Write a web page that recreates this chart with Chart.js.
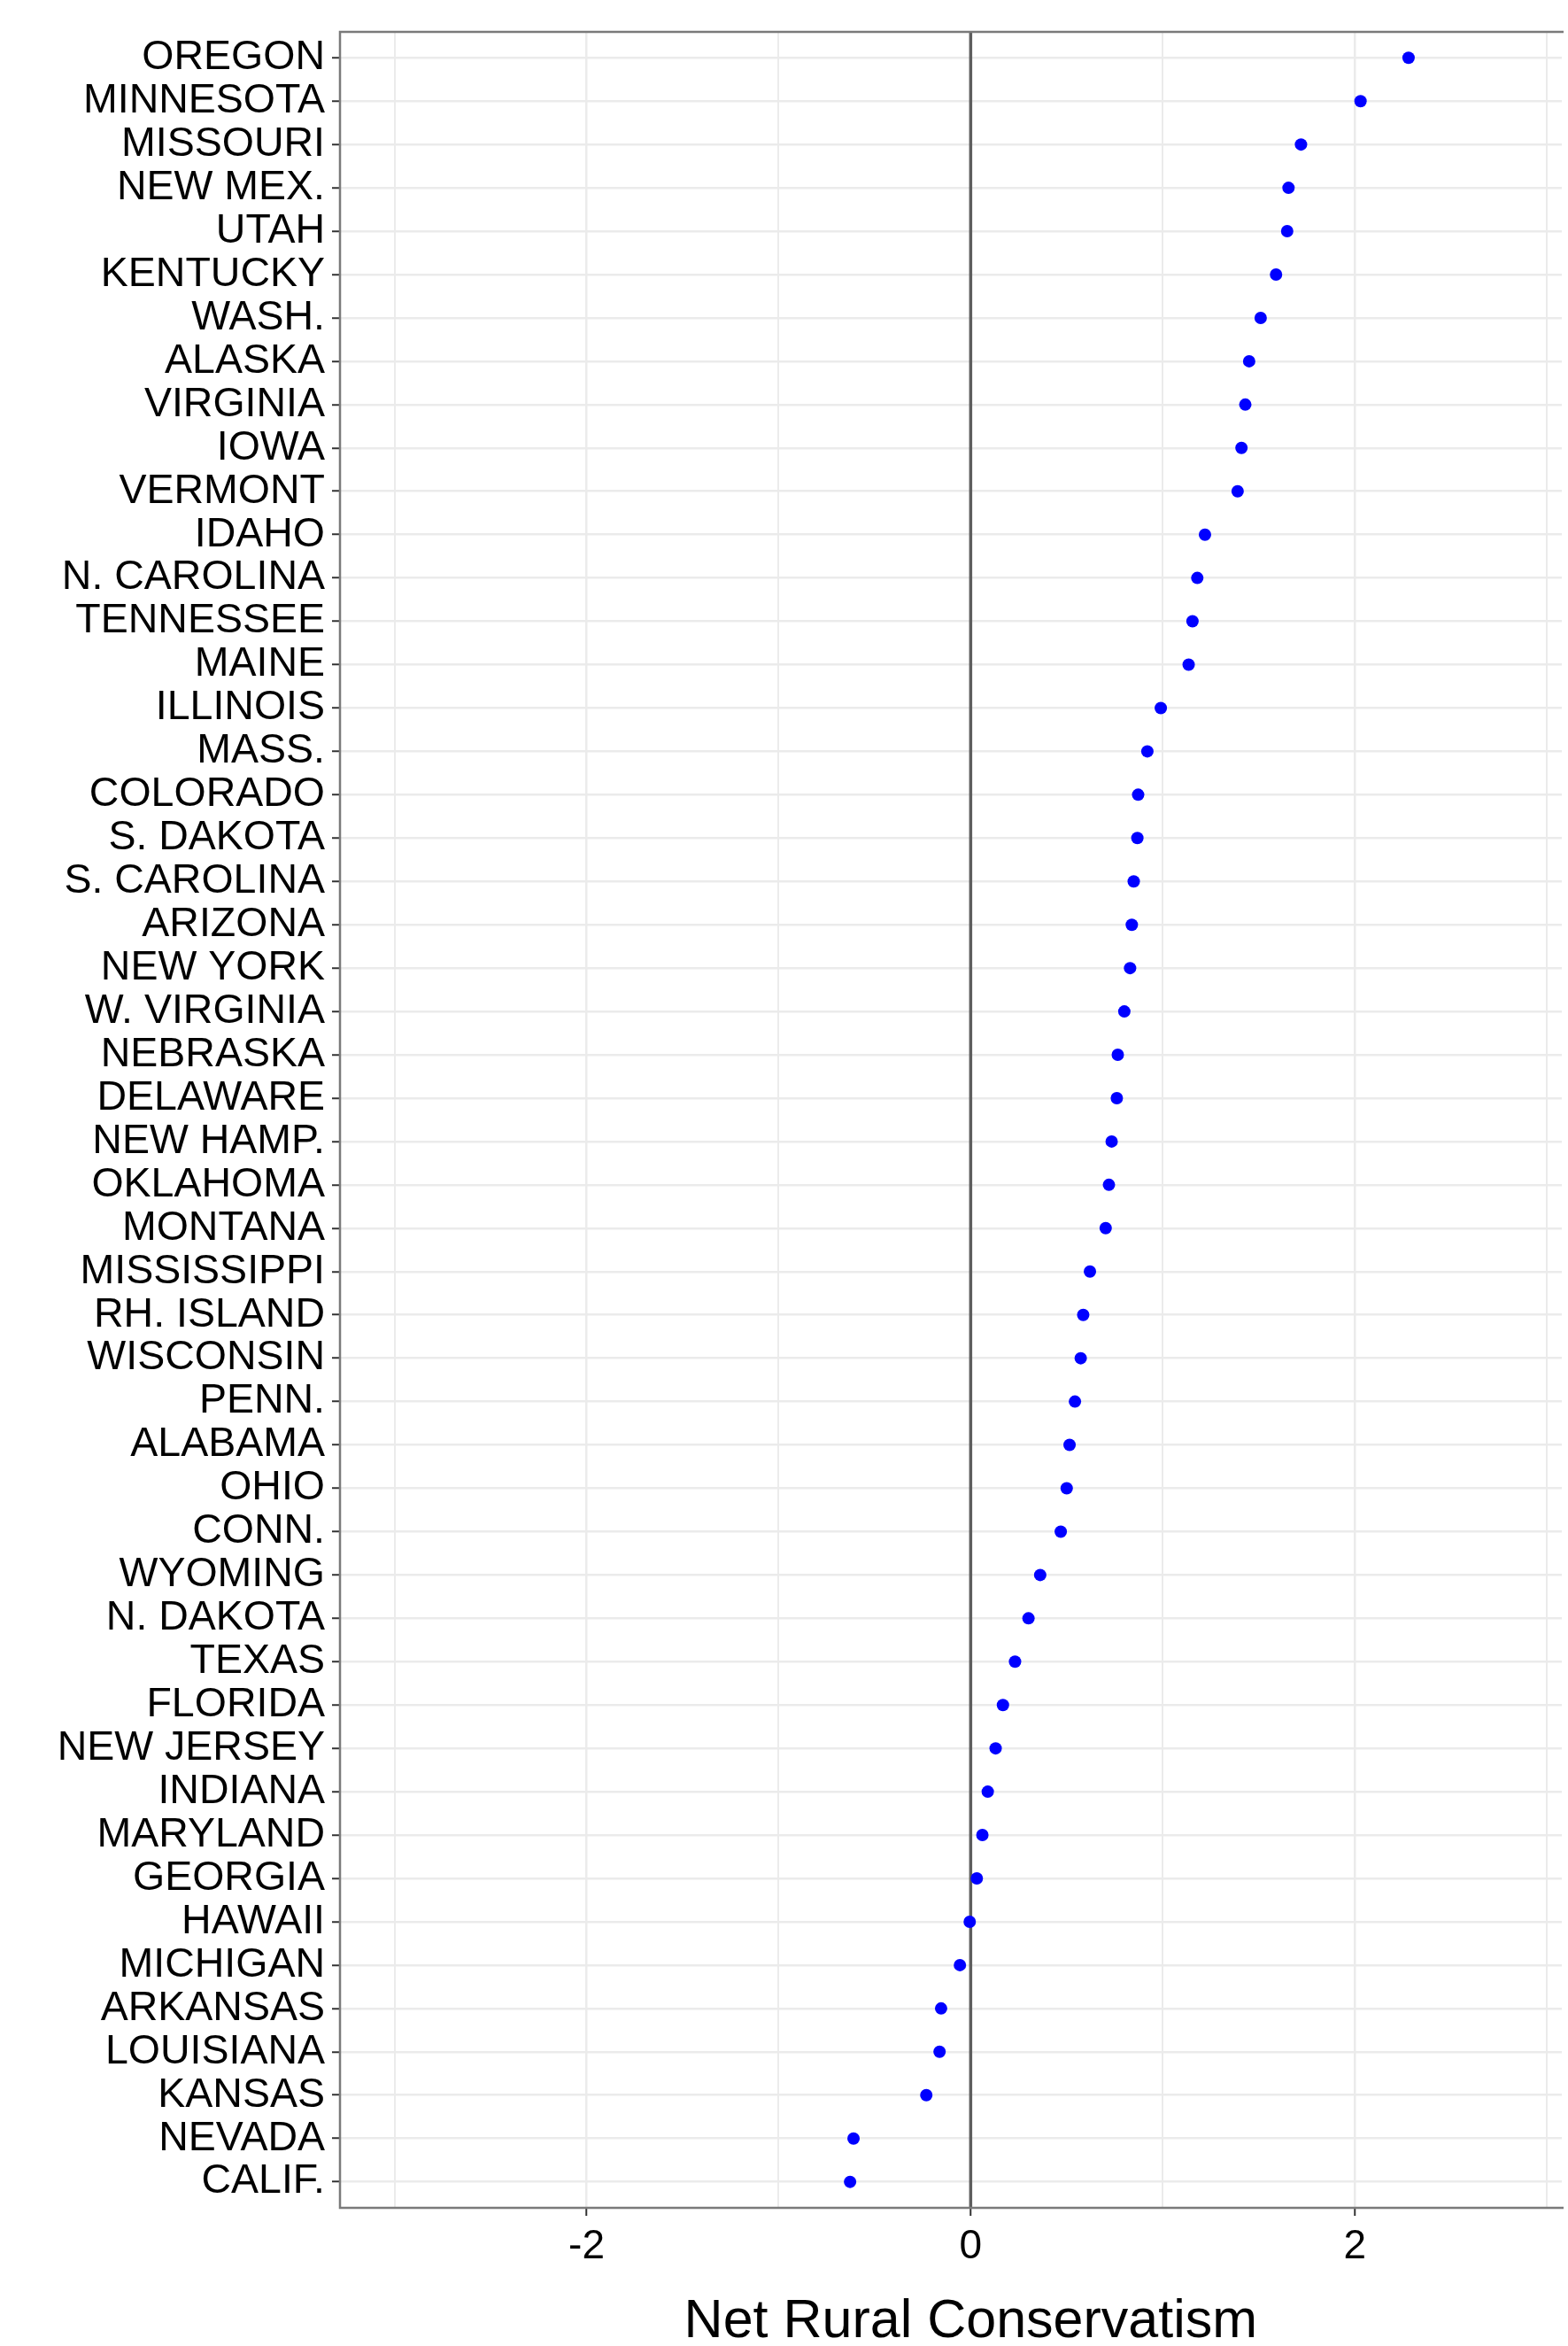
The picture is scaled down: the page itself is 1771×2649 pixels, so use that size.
<!DOCTYPE html>
<html>
<head>
<meta charset="utf-8">
<script src="https://cdn.jsdelivr.net/npm/chart.js@4.4.1/dist/chart.umd.min.js"></script>
<style>
  html, body { margin: 0; padding: 0; background: #fff; overflow: hidden; }
  #dotChart { display: block; }
</style>
</head>
<body>
<canvas id="dotChart" width="1771" height="2649"></canvas>
<script>
// states, top to bottom
const states = [
  'OREGON', 'MINNESOTA', 'MISSOURI', 'NEW MEX.', 'UTAH', 'KENTUCKY', 'WASH.', 'ALASKA',
  'VIRGINIA', 'IOWA', 'VERMONT', 'IDAHO', 'N. CAROLINA', 'TENNESSEE', 'MAINE', 'ILLINOIS',
  'MASS.', 'COLORADO', 'S. DAKOTA', 'S. CAROLINA', 'ARIZONA', 'NEW YORK', 'W. VIRGINIA',
  'NEBRASKA', 'DELAWARE', 'NEW HAMP.', 'OKLAHOMA', 'MONTANA', 'MISSISSIPPI', 'RH. ISLAND',
  'WISCONSIN', 'PENN.', 'ALABAMA', 'OHIO', 'CONN.', 'WYOMING', 'N. DAKOTA', 'TEXAS',
  'FLORIDA', 'NEW JERSEY', 'INDIANA', 'MARYLAND', 'GEORGIA', 'HAWAII', 'MICHIGAN',
  'ARKANSAS', 'LOUISIANA', 'KANSAS', 'NEVADA', 'CALIF.'
]

const ruralScores = [
  2.28, 2.03, 1.72, 1.655, 1.648, 1.59, 1.51, 1.45,
  1.43, 1.41, 1.39, 1.22, 1.18, 1.155, 1.135, 0.99,
  0.92, 0.872, 0.868, 0.849, 0.839, 0.83, 0.80,
  0.766, 0.761, 0.734, 0.72, 0.703, 0.621, 0.586,
  0.573, 0.543, 0.515, 0.50, 0.469, 0.362, 0.301, 0.231,
  0.168, 0.13, 0.089, 0.061, 0.032, -0.005, -0.056,
  -0.154, -0.162, -0.231, -0.61, -0.628
]

const xTickValues = [-2, 0, 2]
const zeroLine = 0
const xTitle = 'Net Rural Conservatism'

const fontFamily = '"Liberation Sans", Arial, Helvetica, sans-serif'

const isMajor = v => xTickValues.includes(v)

const panelBorder = {
  id: 'panelBorder',
  afterDatasetsDraw(chart) {
    const { ctx, chartArea: a } = chart
    ctx.save()
    ctx.strokeStyle = '#7a7a7a'
    ctx.lineWidth = 2.5
    ctx.beginPath()
    ctx.moveTo(a.right + 2, a.top)
    ctx.lineTo(a.left, a.top)
    ctx.lineTo(a.left, a.bottom)
    ctx.lineTo(a.right + 2, a.bottom)
    ctx.stroke()
    ctx.restore()
  }
}

// axis title centred on x = 0, like the original (plot is cropped on the right)
const axisTitle = {
  id: 'axisTitle',
  afterDraw(chart) {
    const { ctx, chartArea } = chart
    const xs = chart.scales.x
    ctx.save()
    ctx.font = '61px ' + fontFamily
    ctx.fillStyle = '#000'
    ctx.textAlign = 'center'
    ctx.textBaseline = 'alphabetic'
    ctx.fillText(xTitle, xs.getPixelForValue(0), chartArea.bottom + 146)
    ctx.restore()
  }
}

const ctx = document.getElementById('dotChart')

new Chart(ctx, {
  type: 'scatter',
  data: {
    datasets: [
      {
        label: 'zero',
        type: 'line',
        showLine: true,
        data: [{ x: zeroLine, y: -0.6 }, { x: zeroLine, y: states.length - 0.4 }],
        borderColor: '#5e5e5e',
        borderWidth: 3.5,
        pointRadius: 0,
        order: 2
      },
      {
        label: 'Net Rural Conservatism',
        data: states.map((s, i) => ({ x: ruralScores[i], y: i })),
        backgroundColor: '#0000ff',
        borderWidth: 0,
        pointRadius: 7,
        order: 1
      }
    ]
  },
  options: {
    responsive: false,
    animation: false,
    layout: { padding: { top: 31, right: 0, bottom: 0, left: 0 } },
    plugins: {
      legend: { display: false },
      tooltip: { enabled: false }
    },
    scales: {
      x: {
        type: 'linear',
        min: -3.284,
        max: 3.078,
        border: { display: false },
        grid: {
          color: '#ebebeb',
          lineWidth: c => (c.tick && isMajor(c.tick.value)) ? 2.5 : 2,
          tickLength: 9,
          tickWidth: 2,
          tickColor: c => (c.tick && isMajor(c.tick.value)) ? '#333' : 'rgba(0,0,0,0)'
        },
        ticks: {
          stepSize: 1,
          includeBounds: false,
          autoSkip: false,
          maxRotation: 0,
          padding: 8,
          color: '#000',
          font: { family: fontFamily, size: 46 },
          callback: v => isMajor(v) ? String(v) : ''
        },
        afterFit: s => { s.height = 156 }
      },
      y: {
        type: 'linear',
        reverse: true,
        min: -0.6,
        max: states.length - 0.4,
        border: { display: false },
        grid: {
          color: '#ebebeb',
          lineWidth: 2.5,
          tickLength: 9,
          tickWidth: 2,
          tickColor: '#333'
        },
        ticks: {
          stepSize: 1,
          includeBounds: false,
          autoSkip: false,
          maxTicksLimit: 100,
          padding: 8,
          color: '#000',
          font: { family: fontFamily, size: 46.5 },
          callback: v => states[v] ?? ''
        },
        afterFit: s => { s.width = 384 }
      }
    }
  },
  plugins: [panelBorder, axisTitle]
})
</script>
</body>
</html>
